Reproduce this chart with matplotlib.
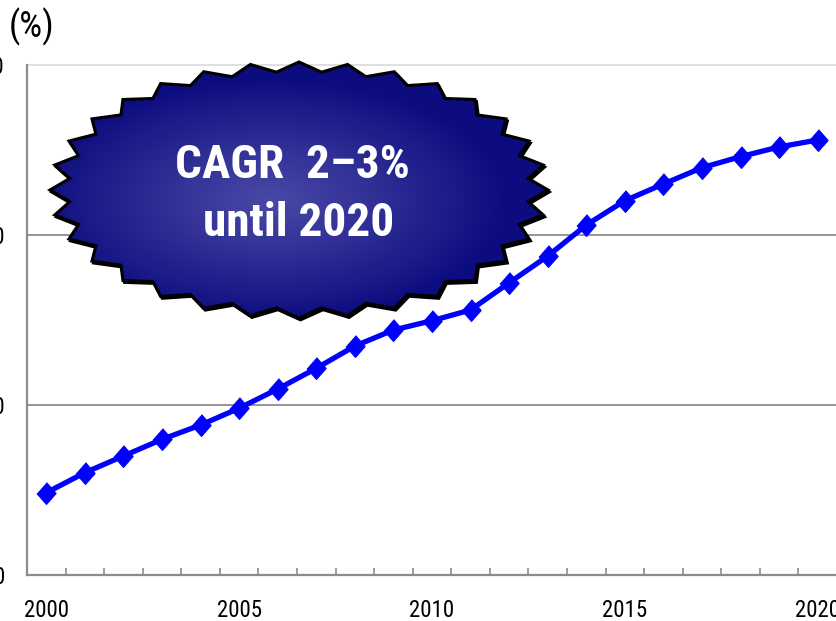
import numpy as np
import matplotlib
matplotlib.use('Agg')
import matplotlib.pyplot as plt
from matplotlib import font_manager as fm
from matplotlib.patches import Polygon

# ---------------- data ----------------
years = list(range(2000, 2021))
values = [4.84, 6.02, 7.00, 7.98, 8.82, 9.81, 10.94, 12.16, 13.47, 14.41, 14.96,
          15.59, 17.19, 18.76, 20.59, 22.02, 23.00, 23.96, 24.61, 25.18, 25.59]
year_labels = ['2000', '2005', '2010', '2015', '2020']
y_ticks = [0, 10, 20, 30]
callout_lines = ["CAGR  2\u20133%", "until 2020"]
unit_label = "(%)"

# ---------------- font choice (prefer a narrow sans) ----------------
names = {f.name for f in fm.fontManager.ttflist}
narrow_pref = ['Liberation Sans Narrow', 'Arial Narrow', 'Roboto Condensed',
               'Open Sans Condensed', 'DejaVu Sans Condensed', 'Noto Sans Condensed']
narrow = None
for n in narrow_pref:
    if n in names:
        narrow = n
        break
stretch_ok = False
if narrow is None:
    for f in fm.fontManager.ttflist:
        if f.name in ('DejaVu Sans', 'Noto Sans', 'Open Sans', 'Roboto') and \
                str(f.stretch) in ('condensed', 'semi-condensed'):
            narrow = f.name
            stretch_ok = True
            break

if narrow is not None:
    FAMILY = [narrow, 'Liberation Sans', 'DejaVu Sans']
    tick_fs, call_fs, unit_fs = 16.5, 34, 26
else:
    FAMILY = ['Liberation Sans', 'DejaVu Sans']
    tick_fs, call_fs, unit_fs = 14.5, 29, 23
plt.rcParams['font.family'] = FAMILY
if stretch_ok:
    plt.rcParams['font.stretch'] = 'condensed'

W, H = 836, 621
fig = plt.figure(figsize=(W / 100, H / 100), dpi=100)
ax = fig.add_axes([27 / W, 1 - 575 / H, 810 / W, 510 / H])

x = np.arange(len(years))
ax.set_xlim(-0.5, len(years) - 0.5)
ax.set_ylim(y_ticks[0], y_ticks[-1])

# grid lines
for yv in y_ticks[1:-1]:
    ax.axhline(yv, color='#8c8c8c', lw=1.3, zorder=1)
ax.axhline(y_ticks[-1], color='#dcdcdc', lw=1.3, zorder=1, clip_on=False)

for s in ['top', 'right']:
    ax.spines[s].set_visible(False)
for s in ['left', 'bottom']:
    ax.spines[s].set_color('#8c8c8c')
    ax.spines[s].set_linewidth(1.6)

# x ticks: labels every 5 years, minor tick marks between categories
label_pos = [years.index(int(l)) for l in year_labels]
ax.set_xticks(label_pos)
ax.set_xticklabels(year_labels)
ax.set_xticks(np.arange(0.5, len(years) - 1, 1.0), minor=True)
ax.tick_params(axis='x', which='major', length=0, pad=17, labelsize=tick_fs)
ax.tick_params(axis='x', which='minor', direction='in', length=5, width=1.2,
               color='#8c8c8c')

ax.set_yticks(y_ticks)
ax.set_yticklabels([str(v) for v in y_ticks])
ax.tick_params(axis='y', length=0, pad=16, labelsize=tick_fs)

# data line
verts = [(0, 1), (0.88, 0), (0, -1), (-0.88, 0)]
ax.plot(x, values, color='#0000ff', lw=3.8, marker=verts, markersize=15.5,
        markerfacecolor='#0000ff', markeredgecolor='#0000ff', zorder=3,
        clip_on=False, solid_joinstyle='round')

# unit label
fig.text(9 / W, 1 - 27 / H, unit_label, ha='left', va='center', fontsize=unit_fs)

# ---------------- starburst callout ----------------
ov = fig.add_axes([0, 0, 1, 1], zorder=5)
ov.set_xlim(0, W)
ov.set_ylim(H, 0)
ov.axis('off')
ov.patch.set_alpha(0)

cx, cy, a, b = 299, 190, 249, 128
N = 32
ratio = 0.925
pts = []
for k in range(N):
    th = k * 2 * np.pi / N
    pts.append((cx + a * np.cos(th), cy - b * np.sin(th)))
    th2 = th + np.pi / N
    pts.append((cx + a * ratio * np.cos(th2), cy - b * ratio * np.sin(th2)))
pts = np.array(pts)

shadow = Polygon(pts + np.array([1.5, 2.0]), closed=True, facecolor='black',
                 edgecolor='black', lw=2, zorder=1)
ov.add_patch(shadow)
star = Polygon(pts, closed=True, facecolor='none', edgecolor='black', lw=2.2,
               zorder=3)
ov.add_patch(star)

x0, x1, y0, y1 = cx - a - 5, cx + a + 5, cy - b - 5, cy + b + 5
gx = np.linspace(x0, x1, 400)
gy = np.linspace(y0, y1, 220)
GX, GY = np.meshgrid(gx, gy)
gcx, gcy = 270, 200
t = np.sqrt(((GX - gcx) / (a * 0.95)) ** 2 + ((GY - gcy) / (b * 0.95)) ** 2)
t = np.clip(t, 0, 1) ** 1.1
c_in = np.array([72, 72, 166]) / 255
c_out = np.array([12, 12, 128]) / 255
img = c_in[None, None, :] * (1 - t[..., None]) + c_out[None, None, :] * t[..., None]
im = ov.imshow(img, extent=(x0, x1, y1, y0), origin='upper', zorder=2,
               interpolation='bilinear', aspect='auto')
clip = Polygon(pts, closed=True, transform=ov.transData, facecolor='none',
               edgecolor='none')
ov.add_patch(clip)
im.set_clip_path(clip)
ov.set_xlim(0, W)
ov.set_ylim(H, 0)

ov.text(292.5, 178, callout_lines[0], ha='center', va='baseline', color='white',
        fontsize=call_fs, fontweight='bold', zorder=4)
ov.text(299, 236.5, callout_lines[1], ha='center', va='baseline', color='white',
        fontsize=call_fs, fontweight='bold', zorder=4)

fig.savefig('out.png', dpi=100)
